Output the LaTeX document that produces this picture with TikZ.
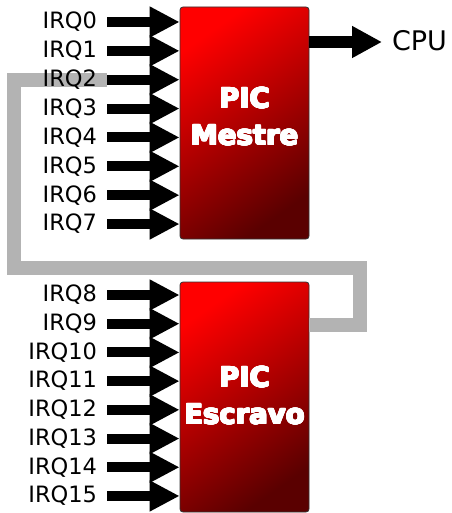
\documentclass[tikz,border=0pt]{standalone}
\usepackage{fontspec}
\setmainfont{DejaVu Sans}
\usepackage[copies]{contour}
\contourlength{0.7pt}
\contournumber{16}
\usetikzlibrary{arrows.meta,calc}

\definecolor{picred}{RGB}{255,0,0}
\definecolor{picdark}{RGB}{90,0,0}
\definecolor{cascade}{RGB}{179,179,179}

\newcommand{\heavyline}[1]{\contour{white}{#1}}

\tikzset{
  picbox/.style={draw=black!80, line width=0.8pt, rounded corners=3pt,
    shading=axis, top color=picred, bottom color=picdark, shading angle=35,
    minimum width=129pt, inner sep=0pt},
  pictext/.style={text=white, align=center, inner sep=0pt,
    font=\bfseries\fontsize{27.5}{37}\selectfont},
  irqlabel/.style={anchor=east, inner ysep=0pt, inner xsep=0pt, outer xsep=10pt,
    text height=16.7pt, text depth=3pt, font=\fontsize{22.5}{27}\selectfont},
  cpulabel/.style={anchor=west, inner ysep=0pt, inner xsep=0pt, outer xsep=10pt,
    text height=19.7pt, text depth=3pt, font=\fontsize{27}{32}\selectfont},
  irqarrow/.style={line width=10pt, -{Triangle[length=30pt,width=29pt]}},
  cpuarrow/.style={line width=12pt, -{Triangle[length=30pt,width=30pt]}},
  cascadeline/.style={draw=cascade, line width=14pt, line join=miter},
}

\begin{document}
\begin{tikzpicture}[x=1pt,y=-1pt]
  \useasboundingbox (0,0) rectangle (451,513);

  % controller blocks
  \node[picbox, minimum height=232pt] (master) at (244.5,123) {};
  \node[picbox, minimum height=230pt] (slave) at (244.5,397) {};

  % cascade line from the slave output to the IRQ2 input
  \coordinate (in2) at (107,{22+28.86*2});
  \coordinate (cl) at (13.5,268);
  \coordinate (cr) at (360,325);
  \draw[cascadeline] (slave.east |- cr) -- (cr) -- (cr |- cl) -- (cl)
    -- (cl |- in2) -- (in2);

  % interrupt request labels
  \foreach \i in {0,...,7}
    \node[irqlabel] (irq\i) at (107,{22+28.86*\i}) {IRQ\i};
  \foreach \i in {8,...,15}
    \node[irqlabel] (irq\i) at (107,{295+28.71*(\i-8)}) {IRQ\i};

  % request inputs
  \foreach \i in {0,...,7}
    \draw[irqarrow] (irq\i.east) -- (irq\i.east -| master.west);
  \foreach \i in {8,...,15}
    \draw[irqarrow] (irq\i.east) -- (irq\i.east -| slave.west);

  % output to the processor
  \node[cpulabel] (cpu) at (382,42) {CPU};
  \draw[cpuarrow] (master.east |- cpu.west) -- (cpu.west);

  % block titles, thickened with a white contour
  \node[pictext] (mtitle) at (244.5,117) {\heavyline{PIC}\\\heavyline{Mestre}};
  \node[pictext] (stitle) at (244.5,396) {\heavyline{PIC}\\\heavyline{Escravo}};
\end{tikzpicture}
\end{document}
